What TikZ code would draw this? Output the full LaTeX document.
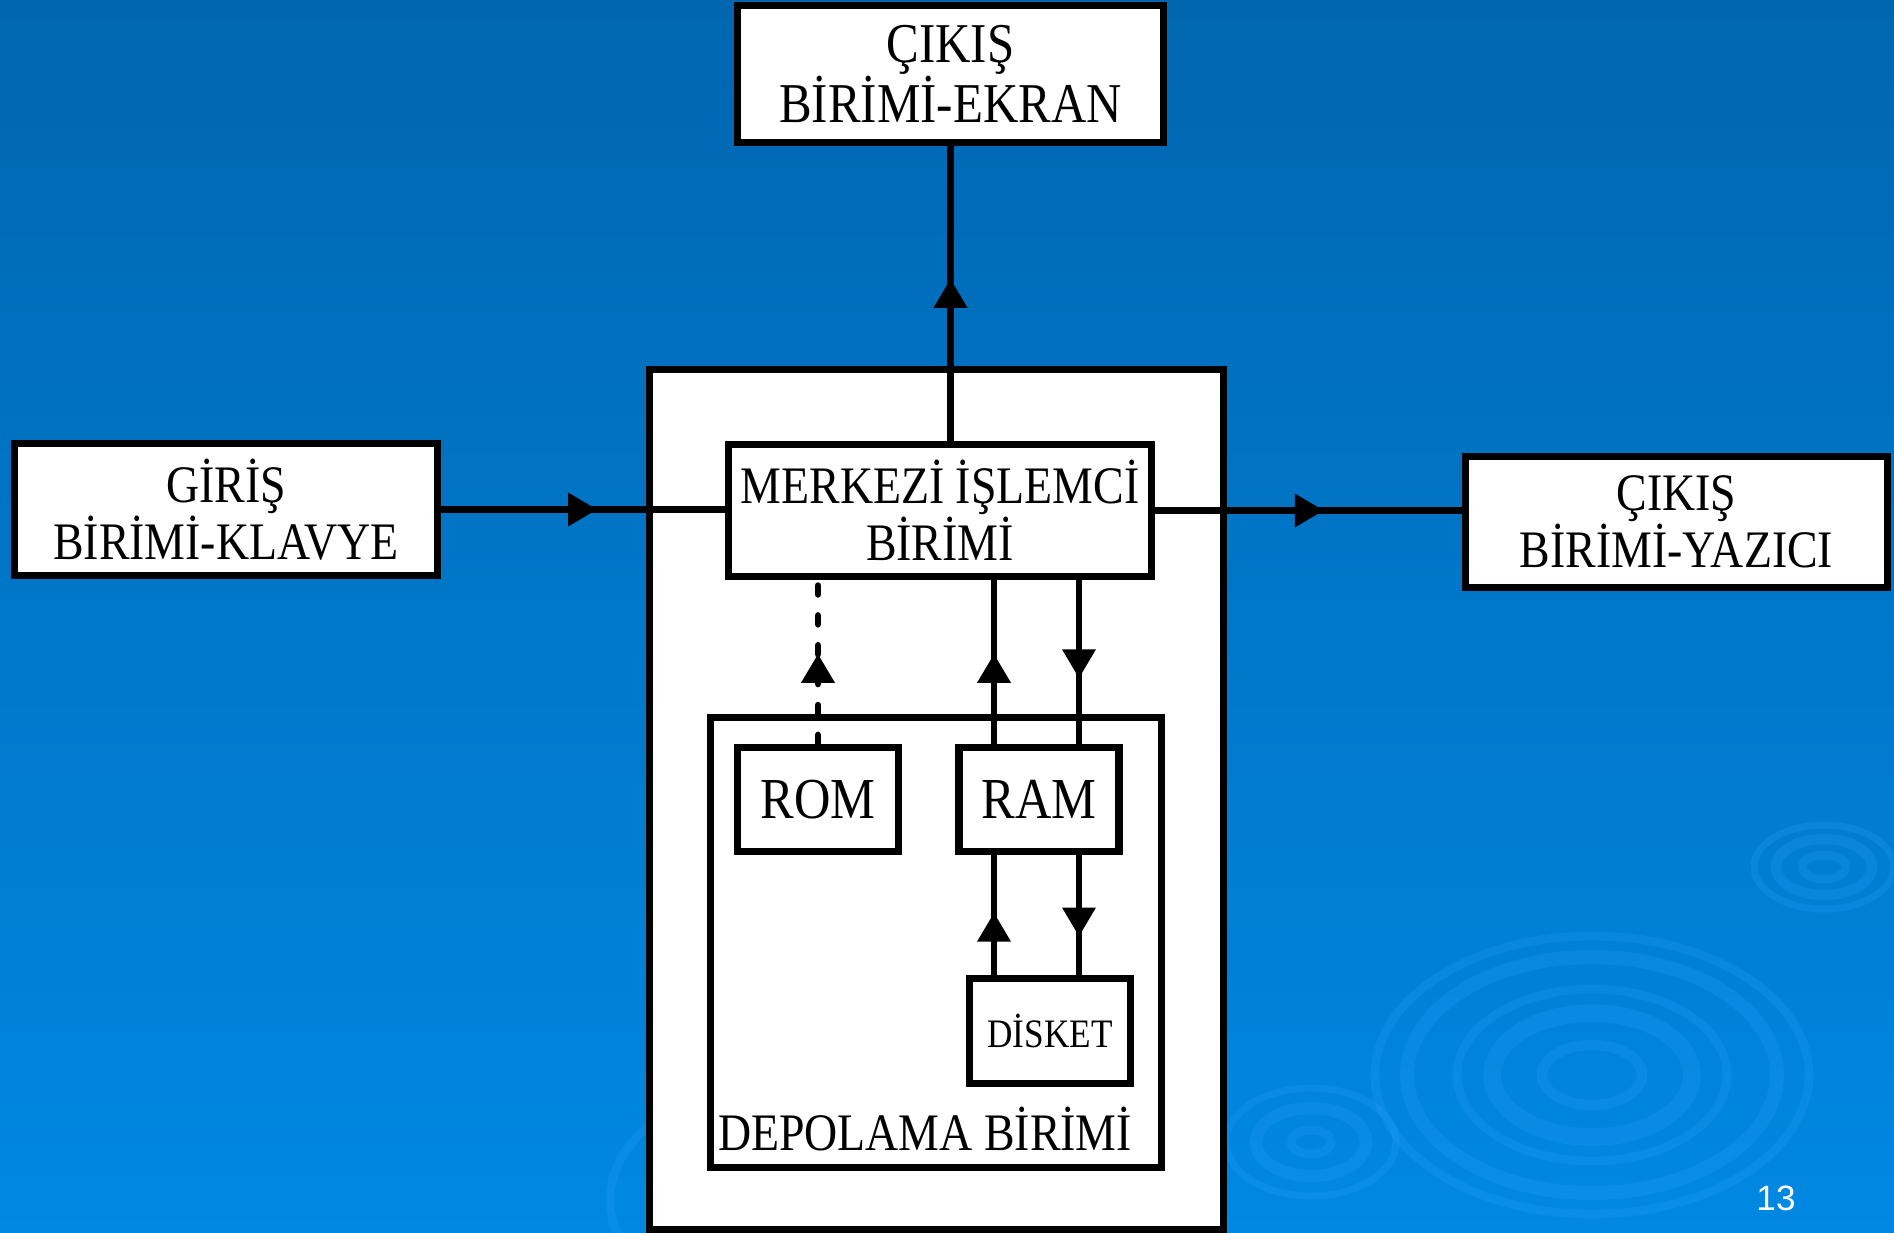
\documentclass[tikz,border=0pt]{standalone}
\usepackage{fontspec}
\setmainfont{Liberation Serif}[FakeStretch=0.87]
\newfontfamily\pagefont{Liberation Sans}
\usetikzlibrary{arrows.meta,decorations.markings}

\definecolor{slidetop}{HTML}{0066B0}
\definecolor{slidemid}{HTML}{0072C4}
\definecolor{slidebot}{HTML}{0088E2}
\definecolor{ripple}{HTML}{2AA4FF}

\tikzset{
  unit/.style={draw=black, fill=white, line width=4.3pt, inner sep=0pt,
    align=center, font=\fontsize{30}{31}\selectfont},
  link/.style={line width=3.8pt},
  dotlink/.style={link, dash pattern=on 5pt off 12pt, line cap=round},
  fwd/.style={postaction={decorate}, decoration={markings,
    mark=at position #1 with {\pgfsetdash{}{0pt}\arrow{Triangle[length=0.58cm,width=0.64cm]}}}},
  ring/.style={draw=ripple, opacity=0.22},
}

\begin{document}
\begin{tikzpicture}[x=0.02cm, y=-0.02cm]
  \useasboundingbox (0,0) rectangle (1894,1232);
  \shade[top color=slidetop, middle color=slidemid, bottom color=slidebot]
    (0,0) rectangle (1894,1232);

  % ripples
  \draw[ring, line width=5pt]  (1592,1075) ellipse [x radius=217, y radius=139];
  \draw[ring, line width=8pt]  (1592,1075) ellipse [x radius=185, y radius=118];
  \draw[ring, line width=5pt]  (1592,1075) ellipse [x radius=135, y radius=86];
  \draw[ring, line width=10pt] (1592,1075) ellipse [x radius=100, y radius=62];
  \draw[ring, line width=6pt]  (1592,1075) ellipse [x radius=50, y radius=30];
  \draw[ring, line width=4pt]  (1824,867) ellipse [x radius=70, y radius=42];
  \draw[ring, line width=6pt]  (1824,867) ellipse [x radius=48, y radius=28];
  \draw[ring, line width=5pt]  (1824,867) ellipse [x radius=22, y radius=12];
  \draw[ring, line width=4pt]  (1311,1142) ellipse [x radius=85, y radius=54];
  \draw[ring, line width=7pt]  (1311,1142) ellipse [x radius=55, y radius=34];
  \draw[ring, line width=5pt]  (1311,1142) ellipse [x radius=20, y radius=12];
  \draw[ring, line width=5pt]  (760,1200) ellipse [x radius=150, y radius=110];

  \node[unit, minimum width=11.48cm, minimum height=17.21cm] (main) at (936.5,799.75) {};
  \node[unit, minimum width=9.02cm, minimum height=9.0cm] (depo) at (936,942.5) {};

  \node[unit, minimum width=8.52cm, minimum height=2.74cm,
    font=\fontsize{32}{33}\selectfont] (ekran) at (950.5,74) {ÇIKIŞ\\BİRİMİ-EKRAN};
  \node[unit, minimum width=8.46cm, minimum height=2.64cm] (giris) at (226,509.5) {GİRİŞ\\BİRİMİ-KLAVYE};
  \node[unit, minimum width=8.46cm, minimum height=2.64cm] (cpu) at (940,510.5) {MERKEZİ İŞLEMCİ\\BİRİMİ};
  \node[unit, minimum width=8.44cm, minimum height=2.62cm] (yazici) at (1676.5,522) {ÇIKIŞ\\BİRİMİ-YAZICI};
  \node[unit, minimum width=3.22cm, minimum height=2.08cm,
    font=\fontsize{33}{34}\selectfont] (rom) at (818,799.5) {ROM};
  \node[unit, minimum width=3.19cm, minimum height=2.08cm,
    font=\fontsize{33}{34}\selectfont] (ram) at (1039,799.5) {RAM};
  \node[unit, minimum width=3.22cm, minimum height=2.1cm,
    font=\fontsize{23}{24}\selectfont] (disket) at (1050,1031) {DİSKET};
  \node[font=\fontsize{30}{31}\selectfont] (depolabel) at (925,1129) {DEPOLAMA BİRİMİ};

  \draw[link, fwd=0.55] (ekran.south |- cpu.north) -- (ekran.south);
  \draw[link, fwd=0.55] (giris.east) -- (giris.east -| cpu.west);
  \draw[link, fwd=0.55] (cpu.east) -- (cpu.east -| yazici.west);
  \draw[dotlink, fwd=0.55] (rom.north) -- (rom.north |- cpu.south);
  \draw[link, fwd=0.55] ([xshift=-0.9cm]ram.north) -- ([xshift=-0.9cm]ram.north |- cpu.south);
  \draw[link, fwd=0.6] ([xshift=0.8cm]ram.north |- cpu.south) -- ([xshift=0.8cm]ram.north);
  \draw[link, fwd=0.52] ([xshift=-0.9cm]ram.south |- disket.north) -- ([xshift=-0.9cm]ram.south);
  \draw[link, fwd=0.68] ([xshift=0.8cm]ram.south) -- ([xshift=0.8cm]ram.south |- disket.north);

  \node[text=white, font=\pagefont\fontsize{20}{24}\selectfont] (pageno) at (1776,1198) {13};
\end{tikzpicture}
\end{document}
